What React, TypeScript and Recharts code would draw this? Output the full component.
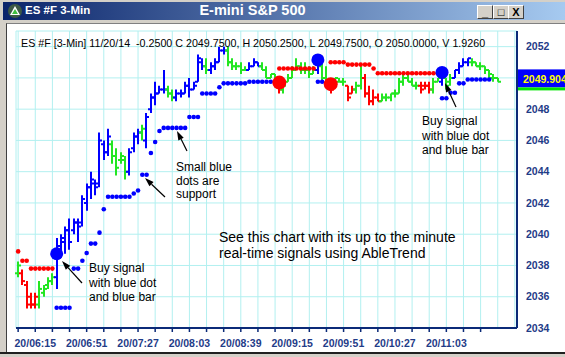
import { ComposedChart, Bar, Line, XAxis, YAxis, CartesianGrid, ReferenceLine } from 'recharts';

// 3-minute bars starting 06:03, slot count includes empty space on the right
const START_MIN = 6 * 60 + 3;
const SLOTS = 117;

const HIGH = [
  2038.25, 2037.75, 2037, 2036.25, 2036.25, 2037, 2036.75, 2037.25, 2037.5, 2039.75,
  2040, 2040.5, 2041, 2041, 2041, 2042.5, 2043.25, 2044, 2043.5, 2046.5,
  2046, 2046.75, 2046, 2045.5, 2045.25, 2045, 2045.5, 2046.5, 2046.75, 2047,
  2047.75, 2049, 2049.75, 2049.5, 2050.5, 2049.5, 2049.25, 2049.25, 2049.25, 2049.75,
  2050, 2049.75, 2051.5, 2051.25, 2051.25, 2051, 2051.25, 2052, 2052, 2052,
  2051.25, 2051, 2051, 2050.75, 2051, 2051.25, 2051, 2051, 2050.75, 2050.25,
  2050.25, 2049.75, 2049.75, 2050.25, 2050.75, 2051.25, 2051, 2051, 2050.75, 2050.75,
  2051.5, 2051, 2050.75, 2050, 2050, 2050, 2050, 2049.5, 2049.5, 2049.75,
  2050.75, 2050.25, 2049.5, 2049.25, 2049, 2049, 2049, 2049, 2049.25, 2050,
  2050.25, 2050.25, 2050, 2049.75, 2049.75, 2049.75, 2049.75, 2050, 2050, 2050.25,
  2050, 2050.25, 2050.5, 2051, 2051.25, 2051.25, 2051.25, 2051, 2051, 2050.75,
  2050.5, 2050.25, 2050,
];
const LOW = [
  2037.25, 2036.75, 2035.25, 2035.25, 2035.25, 2035.25, 2036, 2036.5, 2036.75, 2036.5,
  2038.5, 2038.75, 2039, 2040, 2039.5, 2040.5, 2041.5, 2042.25, 2042.5, 2043,
  2044.75, 2045, 2044.5, 2043.75, 2044.5, 2043.5, 2043.75, 2045.25, 2045.75, 2046,
  2045.5, 2047.75, 2048.25, 2049, 2049, 2048.75, 2048.5, 2048.5, 2048.75, 2049,
  2048.75, 2049.25, 2049.75, 2050.5, 2050.25, 2050.25, 2050.5, 2051, 2051.5, 2050.75,
  2050.5, 2050.5, 2050.25, 2050.5, 2050.5, 2050.75, 2050.75, 2050.5, 2050, 2050,
  2049.75, 2049, 2049, 2049.75, 2050, 2050.5, 2050.25, 2050.25, 2050, 2050.25,
  2050.25, 2049.75, 2049.5, 2049, 2049.75, 2049.75, 2049.5, 2048.5, 2049, 2049,
  2049.25, 2048.75, 2048.25, 2048.25, 2048.5, 2048.5, 2048.5, 2048.5, 2048.75, 2049,
  2049.5, 2049.75, 2049.5, 2049.25, 2049, 2049.25, 2049, 2049, 2049.75, 2049.5,
  2049.25, 2049.5, 2050, 2050.25, 2050.75, 2050.75, 2050.75, 2050.75, 2050.5, 2050.25,
  2050, 2049.75, 2049.75,
];
const OPEN = [
  2037.5, 2037.5, 2036.75, 2036, 2035.5, 2035.5, 2036.25, 2036.75, 2037, 2037.25,
  2039, 2039.5, 2040.25, 2040.25, 2040.75, 2040.75, 2042, 2043, 2043.25, 2043.25,
  2045.75, 2045.25, 2045.75, 2045, 2044.75, 2044.75, 2044, 2045.5, 2046.25, 2046.5,
  2046, 2048, 2048.75, 2049, 2049.25, 2049.25, 2049, 2048.75, 2049, 2049,
  2049.5, 2049.25, 2049.75, 2051, 2050.75, 2050.5, 2050.75, 2051, 2051.75, 2051.75,
  2051, 2050.75, 2050.75, 2050.5, 2050.5, 2050.75, 2051, 2050.75, 2050.5, 2050,
  2050.25, 2049.75, 2049.25, 2049.75, 2050, 2050.5, 2050.75, 2050.5, 2050.5, 2050.25,
  2050.5, 2050.75, 2050, 2049.75, 2049.75, 2049.75, 2049.75, 2049.5, 2049, 2049.25,
  2049.5, 2050, 2049, 2048.5, 2048.75, 2048.5, 2048.75, 2048.75, 2049, 2049,
  2049.75, 2050, 2049.75, 2049.5, 2049.5, 2049.5, 2049.5, 2049.25, 2049.75, 2049.75,
  2050, 2049.75, 2050, 2050.5, 2050.75, 2051, 2051, 2051, 2050.75, 2050.75,
  2050.5, 2050, 2050,
];
const CLOSE = [
  2038, 2037, 2035.5, 2035.5, 2036, 2036.5, 2036.5, 2037, 2037.25, 2039.25,
  2039.75, 2040.25, 2039.5, 2040.75, 2040.5, 2042.25, 2043, 2043.5, 2043, 2046,
  2045.25, 2046.25, 2045, 2044.25, 2045, 2044, 2045.25, 2046.25, 2046.5, 2046.75,
  2047.5, 2048.75, 2049, 2049.25, 2049.25, 2049, 2048.75, 2049, 2049, 2049.5,
  2049.25, 2049.5, 2051.25, 2050.75, 2050.5, 2050.75, 2051, 2051.75, 2051.75, 2051,
  2050.75, 2050.75, 2050.5, 2050.5, 2050.75, 2051, 2050.75, 2050.5, 2050, 2050.25,
  2050, 2049.25, 2049.5, 2050, 2050.5, 2050.75, 2050.5, 2050.5, 2050.25, 2050.5,
  2051, 2050, 2049.75, 2049.25, 2050, 2049.75, 2049.75, 2048.75, 2049.25, 2049.5,
  2050, 2049, 2048.5, 2048.75, 2048.5, 2048.75, 2048.75, 2049, 2049, 2049.75,
  2050, 2049.75, 2049.5, 2049.5, 2049.25, 2049.5, 2049.25, 2049.75, 2050, 2050.25,
  2049.5, 2050, 2050.5, 2050.75, 2051, 2051.25, 2051, 2050.75, 2050.75, 2050.5,
  2050.25, 2050, 2049.75,
];
// b = up trend (blue), g = neutral (green), r = down trend (red)
const TREND = (
  'grrrrggggb' + 'bbbbbbbbbb' + 'bbggggbbbg' + 'bbbbbggbbb' + 'bbbbgbbbbg' +
  'ggggbbbggg' + 'grgggggggg' + 'bggrgggrrg' + 'grrrrggggg' + 'ggggrrrggb' +
  'ggbbbbgggg' + 'ggg'
).split('');

// [first bar, last bar, price] runs of stop dots
const SUPPORT_RUNS = [
  [9, 12, 2035.3], [13, 14, 2037.8], [15, 15, 2038.3], [16, 16, 2038.8], [17, 18, 2039.4],
  [19, 19, 2040.1], [20, 20, 2041.6], [21, 26, 2042.4], [27, 27, 2042.6], [28, 28, 2042.8],
  [29, 30, 2043.8], [31, 31, 2045.2], [32, 32, 2045.9], [33, 33, 2046.6], [34, 39, 2046.8],
  [40, 42, 2047.5], [43, 46, 2049], [47, 47, 2049.4], [48, 53, 2049.65], [54, 59, 2049.75],
  [70, 71, 2049.75], [99, 100, 2048.7], [101, 102, 2049.05], [103, 104, 2049.65], [105, 110, 2049.9],
];
const RESIST_RUNS = [
  [0, 0, 2038.9], [1, 2, 2038.3], [3, 8, 2037.8], [61, 69, 2050.6], [73, 76, 2051],
  [77, 82, 2050.85], [83, 83, 2050.6], [84, 98, 2050.3],
];
const BUY_SIGNALS = [[9, 2038.75], [70, 2051.15], [99, 2050.35]];
const SELL_SIGNALS = [[61, 2049.7], [73, 2049.6]];

const Y_TICKS = [2034, 2036, 2038, 2040, 2042, 2044, 2046, 2048, 2050, 2052];
const LAST_PRICE = 2049.904;

const COLORS: Record<string, string> = { b: '#0000ff', g: '#22e622', r: '#ff0000' };
const NAVY = '#0b2a78';
const LABEL = '#1f3c88';
const FONT = 'Arial, "Liberation Sans", sans-serif';

const rows: any[] = Array.from({ length: SLOTS }, (_, i) => {
  const row: any = { i };
  if (i < HIGH.length) {
    row.range = [LOW[i], HIGH[i]];
    row.open = OPEN[i];
    row.close = CLOSE[i];
    row.trend = TREND[i];
  }
  return row;
});
SUPPORT_RUNS.forEach(([a, b, v]) => { for (let k = a; k <= b; k++) rows[k].sup = v; });
RESIST_RUNS.forEach(([a, b, v]) => { for (let k = a; k <= b; k++) rows[k].res = v; });
BUY_SIGNALS.forEach(([k, v]) => { rows[k].buy = v; });
SELL_SIGNALS.forEach(([k, v]) => { rows[k].sell = v; });

const timeLabel = (i: number) => {
  const m = START_MIN + i * 3;
  const hh = String(Math.floor(m / 60)).padStart(2, '0');
  const mm = String(m % 60).padStart(2, '0');
  return `20/${hh}:${mm}`;
};

function OhlcBar(props: any) {
  const { x, y, width, height, payload } = props;
  if (!payload || !payload.range) return null;
  const [lo, hi] = payload.range;
  const top = Math.min(y, y + height);
  const h = Math.abs(height);
  const cx = Math.round(x + width / 2);
  const py = (v: number) => (hi === lo ? top : top + ((hi - v) / (hi - lo)) * h);
  const c = COLORS[payload.trend];
  return (
    <g>
      <line x1={cx} x2={cx} y1={top} y2={top + h} stroke={c} strokeWidth={2} />
      <line x1={cx - 3} x2={cx} y1={py(payload.open)} y2={py(payload.open)} stroke={c} strokeWidth={2} />
      <line x1={cx} x2={cx + 3} y1={py(payload.close)} y2={py(payload.close)} stroke={c} strokeWidth={2} />
    </g>
  );
}

function XTick(props: any) {
  const { x, y, payload } = props;
  const i = Number(payload.value);
  if (i > 108) return <g />;
  return (
    <g>
      <line x1={x} x2={x} y1={y} y2={y + 4} stroke={NAVY} strokeWidth={1.5} />
      {i % 12 === 4 && (
        <text x={x} y={y + 19} textAnchor="middle" fill={LABEL} fontSize={10.5} fontWeight={700} fontFamily={FONT}>
          {timeLabel(i)}
        </text>
      )}
    </g>
  );
}

// the last-price tag sits on top of the price scale and hides the label under it
function YTick(props: any) {
  const { x, y, payload } = props;
  if (Math.abs(payload.value - LAST_PRICE) < 0.6) return <g />;
  return (
    <text x={x} y={y} dy="0.355em" textAnchor="start" fill={LABEL} fontSize={10.5} fontWeight={700} fontFamily={FONT}>
      {payload.value}
    </text>
  );
}

function PriceTag(props: any) {
  const vb = props.viewBox;
  if (!vb) return null;
  const x = vb.x + vb.width + 1;
  const y = vb.y;
  return (
    <g>
      <rect x={x} y={y - 10} width={50} height={18} fill="#0000ff" />
      <rect x={x} y={y + 8} width={50} height={3} fill="#00e600" />
      <text x={x + 5} y={y + 4} fill="#ffff00" fontSize={10.5} fontWeight={700} fontFamily={FONT}>
        {LAST_PRICE.toFixed(3)}
      </text>
    </g>
  );
}

function Arrow({ x1, y1, x2, y2 }: { x1: number; y1: number; x2: number; y2: number }) {
  const dx = x2 - x1;
  const dy = y2 - y1;
  const len = Math.hypot(dx, dy);
  const ux = dx / len;
  const uy = dy / len;
  const bx = x2 - ux * 9;
  const by = y2 - uy * 9;
  const pts = `${x2},${y2} ${bx - uy * 3},${by + ux * 3} ${bx + uy * 3},${by - ux * 3}`;
  return (
    <g>
      <line x1={x1} y1={y1} x2={bx} y2={by} stroke="#000" strokeWidth={1.2} />
      <polygon points={pts} fill="#000" />
    </g>
  );
}

function Note({ x, y, lines, size = 12, gap = 14 }: { x: number; y: number; lines: string[]; size?: number; gap?: number }) {
  return (
    <text x={x} y={y} fontSize={size} fontFamily={FONT} fill="#000">
      {lines.map((l, k) => (
        <tspan key={k} x={x} dy={k === 0 ? 0 : gap}>{l}</tspan>
      ))}
    </text>
  );
}

function WinButton({ left, glyph }: { left: number; glyph: string }) {
  return (
    <div
      style={{
        position: 'absolute', left, top: 5, width: 14, height: 12, background: '#d4d0c8',
        borderTop: '1px solid #fff', borderLeft: '1px solid #fff',
        borderRight: '1px solid #404040', borderBottom: '1px solid #404040',
        fontSize: 11, fontWeight: 700, lineHeight: '12px', textAlign: 'center', color: '#000', fontFamily: FONT,
      }}
    >
      {glyph}
    </div>
  );
}

export default function App() {
  return (
    <div style={{ position: 'relative', width: 565, height: 357, background: '#d4d0c8', overflow: 'hidden', fontFamily: FONT }}>
      <style>{'body{margin:0}'}</style>
      {/* title bar */}
      <div style={{ position: 'absolute', left: 3, top: 2, width: 562, height: 18, background: 'linear-gradient(to right, #0a246a, #a6caf0)' }} />
      <svg width={16} height={16} style={{ position: 'absolute', left: 7, top: 3 }}>
        <circle cx={8} cy={8} r={7} fill="#3d5a45" />
        <polygon points="8,3 13,12 3,12" fill="#fff" />
        <polygon points="8,6 11,11 5,11" fill="#3fbf3f" />
      </svg>
      <div style={{ position: 'absolute', left: 25, top: 4, color: '#fff', fontWeight: 700, fontSize: 11.5 }}>ES #F 3-Min</div>
      <div style={{ position: 'absolute', left: 150, width: 205, top: 2, textAlign: 'center', color: '#fff', fontWeight: 700, fontSize: 14.5 }}>
        E-mini S&amp;P 500
      </div>
      <WinButton left={477} glyph="_" />
      <WinButton left={493} glyph="□" />
      <WinButton left={508} glyph="X" />
      {/* client area */}
      <div style={{ position: 'absolute', left: 6, top: 23, width: 565, height: 329, background: '#fff', borderLeft: '1px solid #404040', borderTop: '1px solid #808080' }} />
      <div style={{ position: 'absolute', left: 0, top: 352, width: 565, height: 2, background: '#202020' }} />

      <div style={{ position: 'absolute', left: 0, top: 0 }}>
        <ComposedChart width={565} height={357} data={rows} margin={{ top: 31, right: 0, bottom: 5, left: 16 }} barCategoryGap={0}>
          <CartesianGrid stroke="#b2f0f0" strokeWidth={1} />
          <XAxis
            dataKey="i"
            type="category"
            interval={3}
            height={24}
            tickLine={false}
            tickSize={0}
            tickMargin={0}
            axisLine={{ stroke: NAVY, strokeWidth: 2 }}
            tick={<XTick />}
          />
          <XAxis xAxisId="top" dataKey="i" orientation="top" height={0} tick={false} tickLine={false} axisLine={{ stroke: NAVY, strokeWidth: 2 }} />
          <YAxis
            orientation="right"
            type="number"
            domain={[2034, 2053]}
            ticks={Y_TICKS}
            allowDataOverflow
            width={48}
            tickLine={false}
            tickSize={0}
            tickMargin={9}
            axisLine={{ stroke: NAVY, strokeWidth: 2 }}
            tick={<YTick />}
          />
          <YAxis yAxisId="left" orientation="left" width={0} domain={[2034, 2053]} tick={false} tickLine={false} axisLine={{ stroke: NAVY, strokeWidth: 2 }} />
          <Bar dataKey="range" isAnimationActive={false} shape={(p: any) => <OhlcBar {...p} />} />
          <Line dataKey="sup" stroke="none" dot={{ r: 2.3, fill: '#0000ff', stroke: 'none' }} activeDot={false} isAnimationActive={false} />
          <Line dataKey="res" stroke="none" dot={{ r: 2.3, fill: '#ff0000', stroke: 'none' }} activeDot={false} isAnimationActive={false} />
          <Line dataKey="buy" stroke="none" dot={{ r: 6.5, fill: '#0000ff', stroke: 'none' }} activeDot={false} isAnimationActive={false} />
          <Line dataKey="sell" stroke="none" dot={{ r: 7, fill: '#ff0000', stroke: 'none' }} activeDot={false} isAnimationActive={false} />
          <ReferenceLine y={LAST_PRICE} stroke="none" ifOverflow="visible" label={(p: any) => <PriceTag {...p} />} />
        </ComposedChart>
      </div>

      {/* header + annotations */}
      <svg width={565} height={357} style={{ position: 'absolute', left: 0, top: 0, pointerEvents: 'none' }}>
        <text x={21} y={47} fontSize={10.7} fontFamily={FONT} fill="#000">
          ES #F [3-Min] 11/20/14 {'\u00a0'}-0.2500 C 2049.7500, H 2050.2500, L 2049.7500, O 2050.0000, V 1.9260
        </text>
        <Note x={176} y={171} lines={['Small blue', 'dots are', 'support']} gap={13.5} />
        <Arrow x1={187} y1={151} x2={177} y2={131} />
        <Arrow x1={165} y1={197} x2={145} y2={178} />
        <Note x={89} y={272} lines={['Buy signal', 'with blue dot', 'and blue bar']} gap={14.5} />
        <Arrow x1={82} y1={283} x2={62} y2={261} />
        <Note x={422} y={125} lines={['Buy signal', 'with blue dot', 'and blue bar']} gap={14.5} />
        <Arrow x1={456} y1={107} x2={445} y2={83} />
        <Note x={219} y={242} lines={['See this chart with its up to the minute', 'real-time signals using AbleTrend']} size={14} gap={16} />
      </svg>
    </div>
  );
}
